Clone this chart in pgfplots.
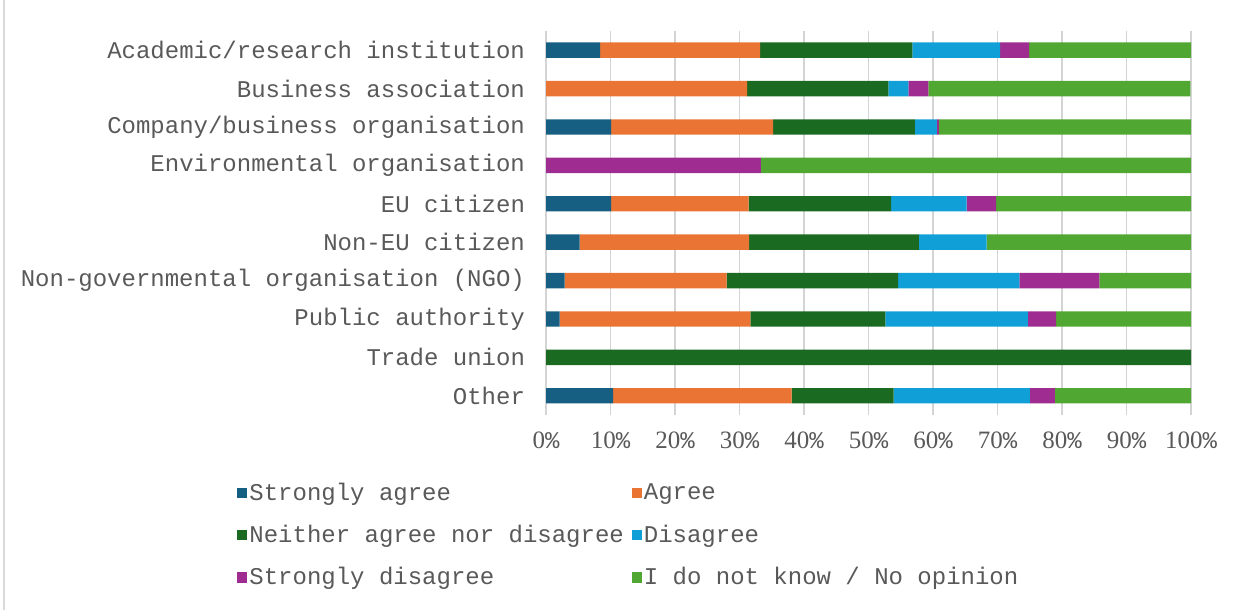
\documentclass[border=0pt]{standalone}
\usepackage{fontspec}
\setmainfont{Liberation Mono}
\newfontfamily\numfont{Liberation Serif}
\usepackage{pgfplots}
\pgfplotsset{compat=1.18}

\definecolor{csa}{HTML}{165F82}
\definecolor{cag}{HTML}{EA7434}
\definecolor{cne}{HTML}{1A6A22}
\definecolor{cdi}{HTML}{109FD6}
\definecolor{csd}{HTML}{9F2C91}
\definecolor{cdk}{HTML}{50A731}
\definecolor{txt}{HTML}{595959}

\begin{document}
\begin{tikzpicture}
\useasboundingbox (0,0) rectangle (621.5pt,305pt);
\draw[black!15, line width=1pt] (1.8pt,0) -- (1.8pt,305pt);
\begin{axis}[
  at={(273pt,97.5pt)}, anchor=south west,
  scale only axis, width=322.5pt, height=192pt,
  xbar stacked, bar width=7.7pt,
  xmin=0, xmax=100, ymin=-0.5, ymax=9.5,
  y dir=reverse,
  ytick={0,...,9},
  yticklabels={Academic/research institution, Business association,
    Company/business organisation, Environmental organisation, EU citizen,
    Non-EU citizen, Non-governmental organisation (NGO), Public authority,
    Trade union, Other},
  xtick={0,10,...,100},
  /pgf/number format/assume math mode=true,
  xticklabel={{\numfont\fontsize{12.5}{14}\selectfont\pgfmathprintnumber{\tick}}\%},
  major tick length=0pt,
  xmajorgrids, grid style={black!17, line width=0.9pt},
  axis line style={draw=none},
  tick label style={font=\fontsize{12}{14}\selectfont, text=txt},
  yticklabel style={xshift=-7pt},
  xticklabel style={yshift=-5pt},
  legend columns=2,
  legend cell align=left,
  legend style={at={(-0.479,-0.17)}, anchor=north west, draw=none,
    font=\fontsize{12}{14}\selectfont, text=txt, inner sep=0pt,
    row sep=9pt,
    /tikz/every even column/.append style={column sep=3pt},
    nodes={inner sep=1pt, xshift=1.5pt}},
  legend image code/.code={\fill[#1] (0pt,-2.6pt) rectangle (5pt,2.6pt);},
]
\addplot[fill=csa, draw=none] coordinates {(8.4,0) (0,1) (10.1,2) (0,3) (10.1,4) (5.2,5) (2.9,6) (2.1,7) (0,8) (10.4,9)};
\addplot[fill=cag, draw=none] coordinates {(24.8,0) (31.2,1) (25.1,2) (0,3) (21.3,4) (26.3,5) (25.1,6) (29.6,7) (0,8) (27.7,9)};
\addplot[fill=cne, draw=none] coordinates {(23.6,0) (21.9,1) (22.0,2) (0,3) (22.1,4) (26.3,5) (26.6,6) (20.9,7) (100,8) (15.8,9)};
\addplot[fill=cdi, draw=none] coordinates {(13.6,0) (3.1,1) (3.4,2) (0,3) (11.7,4) (10.5,5) (18.8,6) (22.1,7) (0,8) (21.1,9)};
\addplot[fill=csd, draw=none] coordinates {(4.5,0) (3.1,1) (0.3,2) (33.3,3) (4.6,4) (0,5) (12.4,6) (4.4,7) (0,8) (3.9,9)};
\addplot[fill=cdk, draw=none] coordinates {(25.1,0) (40.6,1) (39.1,2) (66.7,3) (30.2,4) (31.7,5) (14.2,6) (20.9,7) (0,8) (21.1,9)};
\legend{Strongly agree, Agree, Neither agree nor disagree, Disagree, Strongly disagree, I do not know / No opinion}
\end{axis}
\end{tikzpicture}
\end{document}
